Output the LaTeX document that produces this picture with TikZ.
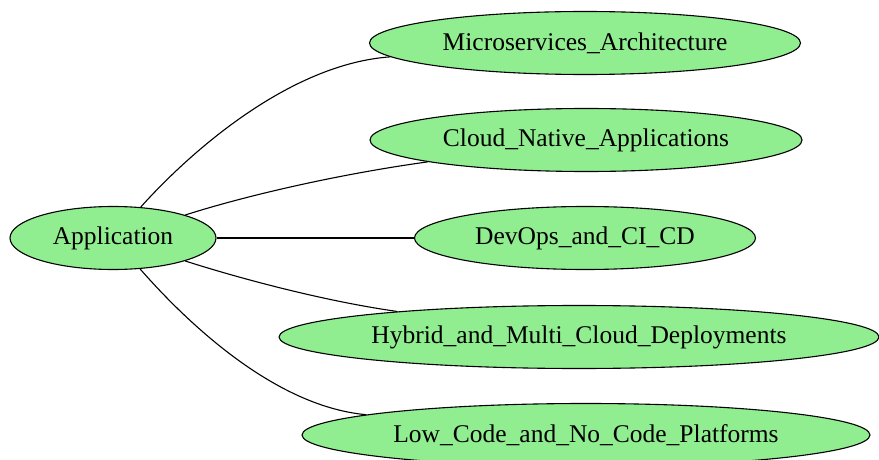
\documentclass[tikz,border=0pt]{standalone}
\usepackage{fontspec}
\setmainfont{Liberation Serif}
\usetikzlibrary{shapes.geometric}
\definecolor{lgreen}{HTML}{90EE90}
\begin{document}
\begin{tikzpicture}[x=1pt,y=-1pt,
  topic/.style={ellipse,draw=black,fill=lgreen,line width=1.1pt,inner sep=0pt,
    minimum height=63pt,font=\fontsize{25.5}{30}\selectfont},
  link/.style={draw=black,line width=1.1pt}]
\useasboundingbox (0,0) rectangle (879,460);
\node[topic,minimum width=206pt] (app) at (113,238) {Application};
\node[topic,minimum width=431pt] (micro) at (585,43) {Microservices\_Architecture};
\node[topic,minimum width=432pt] (cloud) at (586,140) {Cloud\_Native\_Applications};
\node[topic,minimum width=341pt] (devops) at (585,238) {DevOps\_and\_CI\_CD};
\node[topic,minimum width=600pt] (hybrid) at (579,337) {Hybrid\_and\_Multi\_Cloud\_Deployments};
\node[topic,minimum width=568pt] (low) at (586,435) {Low\_Code\_and\_No\_Code\_Platforms};
\draw[link] (app) .. controls (191,151) and (290,64) .. (micro);
\draw[link] (app) .. controls (248,195) and (340,174) .. (cloud);
\draw[link] (app) -- (devops);
\draw[link] (app) .. controls (248,281) and (330,302) .. (hybrid);
\draw[link] (app) .. controls (183,318) and (272,406) .. (low);
\end{tikzpicture}
\end{document}
